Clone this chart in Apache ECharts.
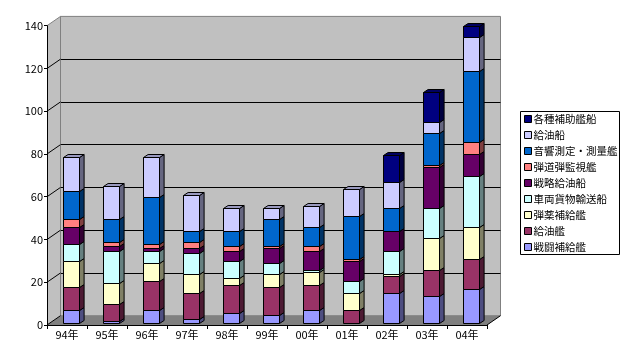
<!DOCTYPE html>
<html><head><meta charset="utf-8">
<script src="https://cdn.jsdelivr.net/npm/echarts@6/dist/echarts.min.js"></script>
<style>html,body{margin:0;padding:0;background:#fff}#c{width:630px;height:364px}</style>
</head><body><div id="c"></div>
<script>
// ---- data ----
const categories = ['94年','95年','96年','97年','98年','99年','00年','01年','02年','03年','04年'];
const seriesNames = ['戦闘補給艦','給油艦','弾薬補給艦','車両貨物輸送船','戦略給油船','弾道弾監視艦','音響測定・測量艦','給油船','各種補助艦船'];
const s_sentou   = [6, 1, 6, 2, 5, 4, 6, 0, 14, 13, 16];
const s_kyuyukan = [11, 8, 14, 12, 13, 13, 12, 6, 8, 12, 14];
const s_danyaku  = [12, 10, 8, 9, 3, 6, 6, 8, 1, 15, 15];
const s_sharyo   = [8, 15, 6, 10, 8, 5, 1, 6, 11, 14, 24];
const s_senryaku = [8, 2, 1, 2, 5, 7, 9, 9, 9, 19, 10];
const s_dandou   = [4, 2, 2, 3, 2, 1, 2, 1, 0, 1, 6];
const s_onkyo    = [13, 11, 22, 5, 7, 13, 9, 20, 11, 15, 33];
const s_kyuyusen = [16, 15, 19, 17, 11, 5, 10, 13, 12, 5, 16];
const s_kakushu  = [0, 0, 0, 0, 0, 0, 0, 0, 12.5, 14, 5];
const yTicks = [0, 20, 40, 60, 80, 100, 120, 140];
// ---- styles ----
const colors = ['#9999FF','#993366','#FFFFCC','#CCFFFF','#660066','#FF8080','#0066CC','#CCCCFF','#000080'];
const allSeries = [s_sentou, s_kyuyukan, s_danyaku, s_sharyo, s_senryaku, s_dandou, s_onkyo, s_kyuyusen, s_kakushu];
const FONT = '"Noto Sans CJK JP", "Noto Sans", sans-serif';
const G = {left: 47, top: 25.7, width: 440, height: 299.3};
const DX = 13.5, DY = 9.3;       // wall depth
const BDX = 4.6, BDY = 3;        // bar depth
const BOFFX = 3.8, BOFFY = -1.7; // bar placement inside depth

function shade(hex, f) {
  const n = parseInt(hex.slice(1), 16);
  const r = Math.round(((n >> 16) & 255) * f), g = Math.round(((n >> 8) & 255) * f), b = Math.round((n & 255) * f);
  return 'rgb(' + r + ',' + g + ',' + b + ')';
}

const totals = categories.map((_, i) => allSeries.reduce((a, s) => a + s[i], 0));
const cum = categories.map(() => 0);

const series = [];
// walls and floor
series.push({
  type: 'custom', name: '_walls', xAxisIndex: 0, yAxisIndex: 0, z: 1, clip: false, silent: true,
  data: [[0, 0]],
  renderItem: function (params, api) {
    const cs = params.coordSys;
    const L = cs.x, T = cs.y, R = cs.x + cs.width, B = cs.y + cs.height;
    const ch = [];
    ch.push({type: 'polygon', shape: {points: [[L, T], [L + DX, T - DY], [L + DX, B - DY], [L, B]]}, style: {fill: '#C0C0C0', stroke: null}});
    ch.push({type: 'polygon', shape: {points: [[L, B], [L + DX, B - DY], [R + DX, B - DY], [R, B]]}, style: {fill: '#808080', stroke: null}});
    ch.push({type: 'line', shape: {x1: L + DX, y1: T - DY, x2: L + DX, y2: B - DY}, style: {stroke: '#808080', lineWidth: 1}});
    yTicks.forEach(function (v) {
      const y = api.coord([0, v])[1];
      ch.push({type: 'line', shape: {x1: L, y1: y, x2: L + DX, y2: y - DY}, style: {stroke: v === 140 ? '#808080' : '#000', lineWidth: 1}});
    });
    ch.push({type: 'line', shape: {x1: R, y1: B, x2: R + DX, y2: B - DY}, style: {stroke: '#000', lineWidth: 1}});
    return {type: 'group', children: ch};
  }
});

allSeries.forEach(function (arr, si) {
  const data = arr.map(function (v, ci) {
    const b = cum[ci];
    cum[ci] += v;
    return [ci, b, b + v, Math.abs(b + v - totals[ci]) < 1e-9 ? 1 : 0];
  });
  const col = colors[si];
  series.push({
    type: 'custom', name: seriesNames[si], xAxisIndex: 0, yAxisIndex: 0, z: 2, clip: false,
    itemStyle: {color: col},
    encode: {x: 0, y: [1, 2]},
    data: data,
    renderItem: function (params, api) {
      const c = api.value(0), b = api.value(1), t = api.value(2), isTop = api.value(3);
      if (t - b <= 0) return null;
      const p0 = api.coord([c, b]), p1 = api.coord([c, t]);
      const w = api.size([1, 0])[0] * 0.4;
      const x0 = Math.round(p0[0] - w / 2 + BOFFX) + 0.5, x1 = x0 + Math.round(w);
      const yb = Math.round(p0[1] + BOFFY) + 0.5, yt = Math.round(p1[1] + BOFFY) + 0.5;
      const ch = [];
      ch.push({type: 'polygon', shape: {points: [[x1, yb], [x1 + BDX, yb - BDY], [x1 + BDX, yt - BDY], [x1, yt]]},
        style: {fill: shade(col, 0.5), stroke: '#000', lineWidth: 1}});
      if (isTop) {
        ch.push({type: 'polygon', shape: {points: [[x0, yt], [x1, yt], [x1 + BDX, yt - BDY], [x0 + BDX, yt - BDY]]},
          style: {fill: shade(col, 0.75), stroke: '#000', lineWidth: 1}});
      }
      ch.push({type: 'rect', shape: {x: x0, y: yt, width: x1 - x0, height: yb - yt},
        style: {fill: col, stroke: '#000', lineWidth: 1}});
      return {type: 'group', children: ch};
    }
  });
});

const chart = echarts.init(document.getElementById('c'), null, {renderer: 'canvas'});
chart.setOption({
  animation: false,
  textStyle: {fontFamily: FONT},
  grid: [
    {left: G.left, top: G.top, width: G.width, height: G.height},
    {left: G.left + DX, top: G.top - DY, width: G.width, height: G.height, show: true,
     backgroundColor: '#C0C0C0', borderColor: '#808080', borderWidth: 1}
  ],
  xAxis: [
    {type: 'category', gridIndex: 0, data: categories, z: 5,
     axisLine: {lineStyle: {color: '#000', width: 1}},
     axisTick: {show: true, length: 4, lineStyle: {color: '#000'}},
     axisLabel: {color: '#000', fontSize: 11, margin: 4, fontFamily: FONT}},
    {type: 'category', gridIndex: 1, data: categories, show: false}
  ],
  yAxis: [
    {type: 'value', gridIndex: 0, min: 0, max: 140, interval: 20, z: 5,
     axisLine: {show: true, lineStyle: {color: '#000', width: 1}},
     axisTick: {show: true, length: 3, lineStyle: {color: '#000'}},
     axisLabel: {color: '#000', fontSize: 11, margin: 4, fontFamily: FONT},
     splitLine: {show: false}},
    {type: 'value', gridIndex: 1, min: 0, max: 140, interval: 20,
     axisLine: {show: false}, axisTick: {show: false}, axisLabel: {show: false},
     splitLine: {show: true, showMinLine: false, showMaxLine: false, lineStyle: {color: '#000', width: 1}}}
  ],
  legend: {
    orient: 'vertical', left: 524, top: 111, padding: 0, itemGap: 0,
    itemWidth: 7, itemHeight: 7, icon: 'rect',
    itemStyle: {borderColor: '#000', borderWidth: 1},
    textStyle: {fontSize: 10.5, lineHeight: 16, color: '#000', fontFamily: FONT, padding: [0, 0, 0, -3]},
    data: seriesNames.slice().reverse()
  },
  graphic: [{type: 'rect', shape: {x: 520.5, y: 111.5, width: 99, height: 143}, style: {fill: null, stroke: '#000', lineWidth: 1}, z: 10, silent: true}],
  series: series
});
</script></body></html>
